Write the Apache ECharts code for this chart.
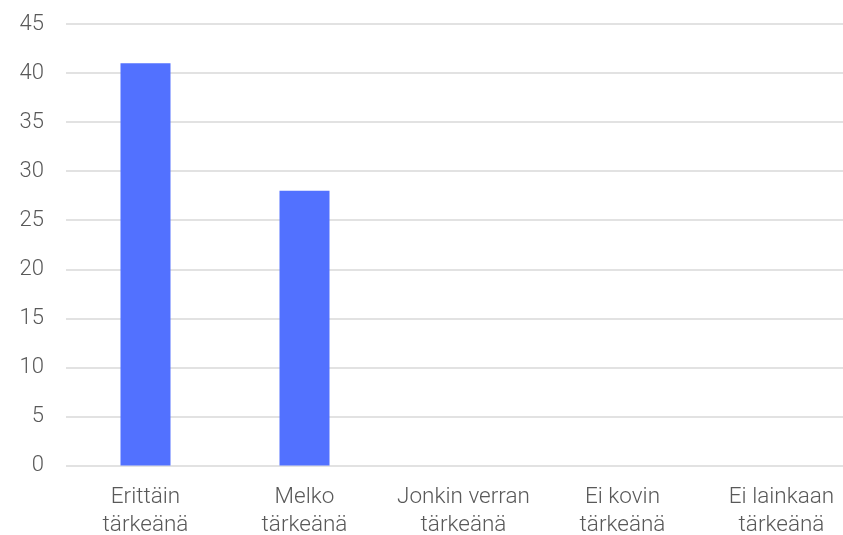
<!DOCTYPE html>
<html><head><meta charset="utf-8">
<script src="https://cdn.jsdelivr.net/npm/echarts@6/dist/echarts.min.js"></script>
<style>html,body{margin:0;padding:0;background:#fff}#c{width:843px;height:535px}</style>
</head><body><div id="c"></div>
<script>
const categories = ["Erittäin\ntärkeänä", "Melko\ntärkeänä", "Jonkin verran\ntärkeänä", "Ei kovin\ntärkeänä", "Ei lainkaan\ntärkeänä"];
const values = [41, 28, 0, 0, 0];
const yMin = 0, yMax = 45, yStep = 5;

const chart = echarts.init(document.getElementById('c'), null, {renderer: 'canvas'});
chart.setOption({
  animation: false,
  grid: {left: 66, width: 795, top: 24, bottom: 69.5, containLabel: false, outerBoundsMode: 'none'},
  xAxis: {
    type: 'category', data: categories,
    axisLine: {show: false}, axisTick: {show: false},
    axisLabel: {interval: 0, margin: 18, color: '#595959', fontFamily: 'Roboto', fontWeight: 300, fontSize: 22.5, lineHeight: 28}
  },
  yAxis: {
    type: 'value', min: yMin, max: yMax, interval: yStep,
    axisLine: {show: false}, axisTick: {show: false},
    axisLabel: {margin: 22, color: '#595959', fontFamily: 'Roboto', fontWeight: 300, fontSize: 22},
    splitLine: {lineStyle: {color: '#d9d9d9', width: 1.5}}
  },
  series: [{
    type: 'bar', data: values, barWidth: 50,
    itemStyle: {color: '#5271FF'}
  }]
});
</script></body></html>
